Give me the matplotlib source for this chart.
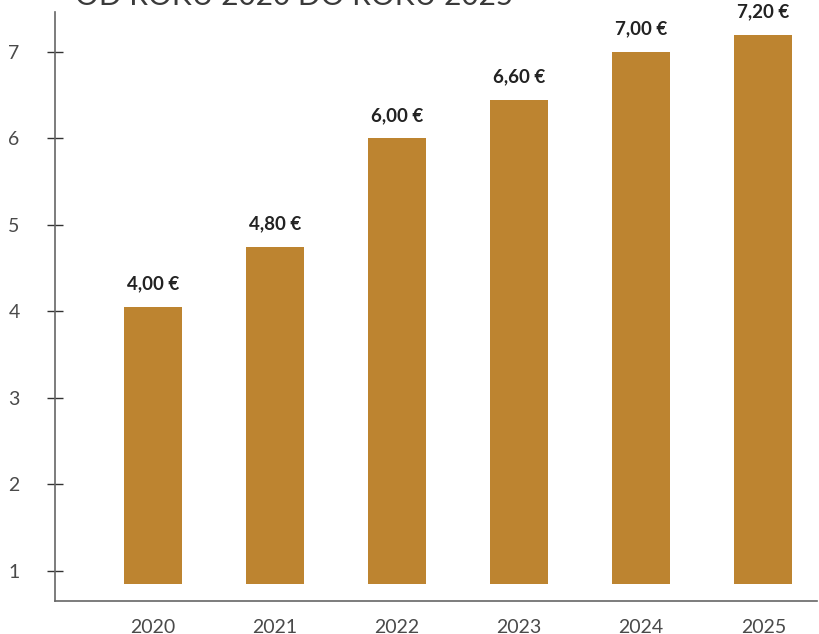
import matplotlib
matplotlib.use("Agg")
import matplotlib.pyplot as plt

years = ["2020", "2021", "2022", "2023", "2024", "2025"]
values = [4.05, 4.75, 6.0, 6.45, 7.0, 7.2]
value_labels = ["4,00 €", "4,80 €", "6,00 €", "6,60 €", "7,00 €", "7,20 €"]
yticks = [1, 2, 3, 4, 5, 6, 7]
title = "OD ROKU 2020 DO ROKU 2025"

bar_base = 0.85
bar_color = "#BD8430"

plt.rcParams['font.family'] = ['Lato', 'DejaVu Sans']

fig = plt.figure(figsize=(8.19, 6.34), dpi=100)
ax = fig.add_axes([55/819, 1 - 601/634, (817-55)/819, (601-12)/634])

x = list(range(len(years)))
heights = [v - bar_base for v in values]
bars = ax.bar(x, heights, bottom=bar_base, width=0.475, color=bar_color)

for xi, v, lab in zip(x, values, value_labels):
    ax.annotate(lab, (xi, v), xytext=(0, 10.5), textcoords='offset points',
                ha='center', va='bottom', fontsize=13.5, fontweight='bold',
                color='#222222')

ax.set_xlim(-0.80, 5.44)
ax.set_ylim(0.653, 7.462)
ax.set_yticks(yticks)
ax.set_yticklabels([str(t) for t in yticks])
ax.set_xticks(x)
ax.set_xticklabels(years)

ax.spines['top'].set_visible(False)
ax.spines['right'].set_visible(False)
for s in ['left', 'bottom']:
    ax.spines[s].set_color('#666666')
    ax.spines[s].set_linewidth(1.2)

ax.tick_params(axis='y', direction='inout', length=11, width=1, color='#333333',
               pad=20, labelsize=14, labelcolor='#4a4a4a')
ax.tick_params(axis='x', length=0, pad=13, labelsize=14, labelcolor='#4a4a4a')

fig.text(75/819, 1 - 5/634, title, ha='left', va='baseline', fontsize=21.5,
         color='#3a3a3a')

fig.savefig("out.png", dpi=100)
